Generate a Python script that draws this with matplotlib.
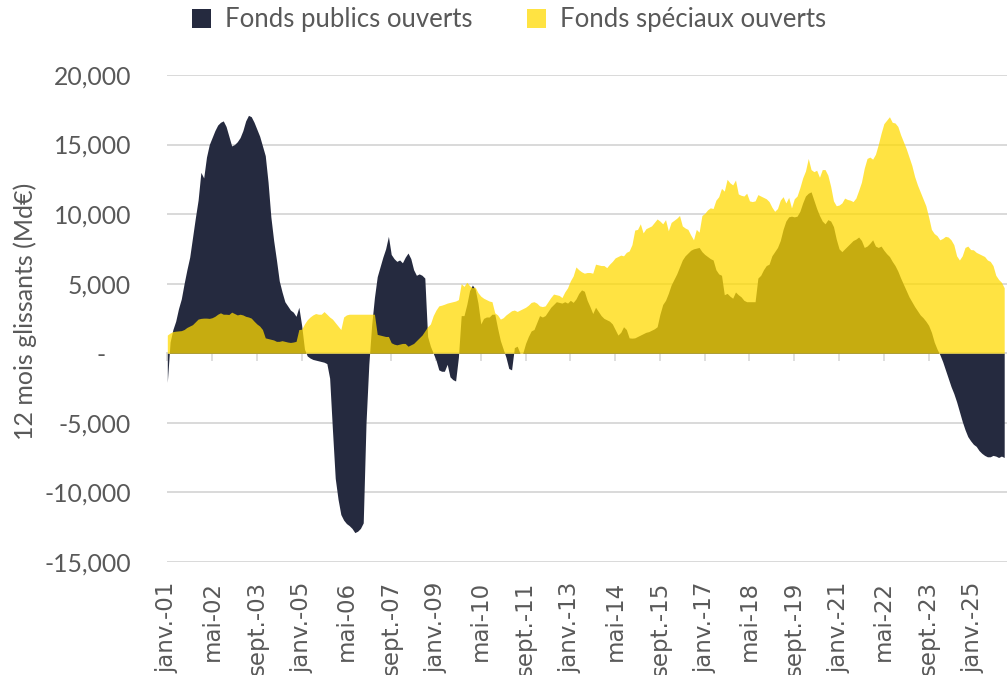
import numpy as np
import matplotlib
matplotlib.use("Agg")
import matplotlib.pyplot as plt
from matplotlib.patches import Patch
from matplotlib.ticker import FuncFormatter

# ---------------- data (monthly, janv. 2001 onwards, 12 months rolling, Md€) ----------------
pub = [-2100, 800, 1700, 2300, 3200, 3900, 5000, 6000, 6900, 8300,
       9700, 11000, 13000, 12600, 14100, 15000, 15500, 16000, 16400, 16600,
       16700, 16300, 15600, 14900, 15000, 15200, 15500, 16000, 16700, 17100,
       17000, 16600, 16100, 15600, 14900, 14200, 12300, 9800, 8100, 6700,
       5200, 4400, 3700, 3400, 3100, 2950, 2650, 3300, 2000, 300,
       -200, -350, -450, -500, -550, -600, -650, -750, -1800, -5500,
       -9000, -10500, -11600, -12000, -12250, -12400, -12600, -12900, -12800, -12600,
       -12200, -5000, -800, 2000, 4000, 5500, 6200, 6900, 7500, 8400,
       7100, 6800, 6600, 6700, 6500, 6900, 7200, 6800, 6000, 5600,
       5700, 5600, 5400, 1200, 500, 0, -500, -1200, -1300, -1300,
       -800, -1700, -1900, -2000, -300, 2700, 2700, 3500, 4500, 4900,
       4600, 3600, 2100, 2500, 2600, 2600, 2800, 2800, 1800, 900,
       300, -300, -1100, -1200, 400, 500, 0, 0, 700, 1200,
       1600, 1700, 2200, 2700, 2600, 2700, 3000, 3300, 3500, 3700,
       3650, 3600, 3700, 3600, 3800, 3650, 3900, 4300, 4550, 4450,
       3800, 3350, 2850, 3300, 3000, 2700, 2500, 2400, 2300, 2100,
       1700, 1300, 1500, 1900, 1700, 1100, 1080, 1100, 1200, 1300,
       1400, 1500, 1550, 1650, 1750, 1900, 2800, 3500, 3800, 4300,
       4900, 5300, 5700, 6200, 6700, 7000, 7200, 7400, 7500, 7550,
       7600, 7300, 7100, 6950, 6800, 6700, 6000, 5700, 5600, 4200,
       4300, 4100, 3950, 4400, 4200, 4050, 3800, 3700, 3700, 3700,
       3700, 5400, 5600, 6000, 6300, 6400, 7000, 7300, 7600, 8100,
       8900, 9500, 9800, 9850, 9800, 9850, 10200, 10800, 11300, 11500,
       11600, 11000, 10400, 9900, 9500, 9300, 9600, 9500, 9100, 8200,
       7500, 7300, 7500, 7700, 7900, 8100, 8200, 8350, 8100, 7600,
       7700, 7900, 8150, 7700, 7600, 7700, 7400, 7150, 6950, 6600,
       6300, 5900, 5400, 4950, 4500, 4050, 3700, 3350, 3050, 2750,
       2550, 2300, 2000, 1500, 800, 300, -100, -600, -1200, -1800,
       -2400, -2900, -3500, -4200, -4900, -5500, -6000, -6300, -6550, -6700,
       -7000, -7200, -7350, -7450, -7450, -7350, -7400, -7500, -7400, -7500]

spe = [1300, 1450, 1550, 1580, 1600, 1620, 1700, 1850, 1950, 2050,
       2250, 2450, 2500, 2520, 2520, 2500, 2550, 2650, 2800, 2900,
       2800, 2800, 2780, 2950, 2850, 2750, 2800, 2750, 2650, 2600,
       2520, 2300, 2100, 1950, 1700, 1100, 1050, 1000, 950, 850,
       850, 900, 850, 800, 770, 800, 850, 1700, 1720, 2100,
       2400, 2600, 2750, 2850, 2800, 2800, 2990, 2800, 2600, 2450,
       2200, 1950, 1700, 2600, 2750, 2800, 2800, 2800, 2800, 2800,
       2800, 2800, 2800, 2800, 2800, 1350, 1300, 1250, 1200, 1200,
       750, 650, 600, 650, 700, 700, 500, 600, 700, 900,
       1100, 1300, 1600, 1900, 2100, 2700, 3100, 3400, 3450, 3520,
       3600, 3650, 3700, 3750, 3850, 5000, 4800, 5100, 4850, 4700,
       4750, 4350, 4100, 3950, 3850, 3750, 3700, 2900, 2750, 2450,
       2550, 2750, 2900, 3050, 3100, 3000, 3100, 3200, 3300, 3450,
       3650, 3700, 3600, 3400, 3350, 3400, 3700, 4000, 4250, 4200,
       4150, 4000, 4400, 4700, 5200, 5550, 6200, 6000, 5850, 5750,
       5800, 5800, 5750, 6400, 6350, 6300, 6300, 6150, 6400, 6600,
       6850, 6950, 7050, 7000, 7250, 7350, 7800, 8850, 8900, 9300,
       8650, 8950, 9050, 9150, 9400, 9650, 9500, 9300, 9600, 8800,
       9400, 9550, 9700, 9900, 9150, 9000, 8900, 8500, 8150, 8900,
       8700, 9900, 10050, 10300, 10450, 10400, 11000, 11250, 11850, 11650,
       12500, 12250, 12100, 12450, 11450, 11350, 11300, 11500, 10950, 10900,
       10950, 11400, 11300, 11200, 11100, 10900, 10500, 10200, 10400, 11000,
       11250, 10800, 11200, 10450, 11100, 11300, 11900, 12600, 13100, 14000,
       13200, 13050, 13150, 12650, 13200, 13200, 12800, 12000, 10950, 10600,
       10650, 10800, 11150, 11050, 11000, 10900, 11150, 11700, 12300, 13300,
       14000, 14100, 13950, 14300, 15000, 15800, 16500, 16750, 17000, 16600,
       16550, 16300, 15700, 15200, 14700, 14100, 13500, 12700, 12100, 11600,
       11100, 10600, 9800, 8900, 8600, 8450, 8150, 8250, 8400, 8350,
       8150, 7800, 7000, 6700, 7000, 7600, 7700, 7450, 7430, 7250,
       7150, 7050, 6950, 6700, 6600, 6300, 5600, 5300, 5100, 4700]

tick_labels = ["janv.-01", "mai-02", "sept.-03", "janv.-05", "mai-06", "sept.-07",
               "janv.-09", "mai-10", "sept.-11", "janv.-13", "mai-14", "sept.-15",
               "janv.-17", "mai-18", "sept.-19", "janv.-21", "mai-22", "sept.-23",
               "janv.-25"]
tick_step = 16
series_names = ["Fonds publics ouverts", "Fonds spéciaux ouverts"]

# ---------------- style ----------------
NAVY = "#252A3F"
YELLOW = "#FFDA00"
YALPHA = 0.74
GREY_TXT = "#595959"
GRID = "#D9D9D9"
FONT = ["Lato", "DejaVu Sans"]

plt.rcParams["font.family"] = FONT

W, H = 1007, 675
fig = plt.figure(figsize=(W / 100, H / 100), dpi=100)
x0, x1 = 167.3, 1007
ytop, ybot = 75.0, 561.8
ax = fig.add_axes([x0 / W, 1 - ybot / H, (x1 - x0) / W, (ybot - ytop) / H])

x = np.arange(len(pub))
ax.fill_between(x, 0, pub, color=NAVY, lw=0, zorder=2)
ax.fill_between(x, 0, spe, color=YELLOW, alpha=YALPHA, lw=0, zorder=3)

ax.set_xlim(0, 300)
ax.set_ylim(-15000, 20000)
ax.set_yticks(np.arange(-15000, 20001, 5000))


def yfmt(v, pos):
    if abs(v) < 1e-9:
        return "-    "
    return f"{v:,.0f}"


ax.yaxis.set_major_formatter(FuncFormatter(yfmt))
ax.tick_params(axis="y", length=0, pad=26, labelsize=17.8, labelcolor=GREY_TXT)
ax.yaxis.grid(True, color=GRID, lw=1.4, zorder=0)
ax.set_axisbelow(True)

for s in ["top", "right", "left"]:
    ax.spines[s].set_visible(False)
ax.spines["bottom"].set_position(("data", 0))
ax.spines["bottom"].set_color(GRID)
ax.spines["bottom"].set_linewidth(1.4)
ax.spines["bottom"].set_zorder(1)

ticks = np.arange(0, len(tick_labels) * tick_step, tick_step)
ax.set_xticks(ticks)
ax.set_xticklabels([])
ax.tick_params(axis="x", direction="out", length=5.5, width=1.2, color=GRID)

sec = ax.secondary_xaxis(0.0)
sec.set_xticks(ticks, labels=tick_labels)
sec.spines["bottom"].set_visible(False)
sec.tick_params(axis="x", length=0, pad=14, labelrotation=90,
                labelsize=16.5, labelcolor=GREY_TXT)
for t in sec.get_xticklabels():
    t.set_fontfamily("DejaVu Sans")

fig.text(25 / W, 1 - 311 / H, "12 mois glissants (Md€)", rotation=90,
         ha="center", va="center", fontsize=18, color=GREY_TXT)

handles = [Patch(facecolor=NAVY, edgecolor="none"),
           Patch(facecolor=YELLOW, alpha=YALPHA, edgecolor="none")]
leg = fig.legend(handles, series_names, loc="center", ncol=2,
                 bbox_to_anchor=(509 / W, 1 - 20 / H), frameon=False,
                 fontsize=18.5, labelcolor=GREY_TXT, handlelength=0.75,
                 handleheight=0.75, handletextpad=0.55, columnspacing=2.1)

fig.savefig("out.png", dpi=100)
